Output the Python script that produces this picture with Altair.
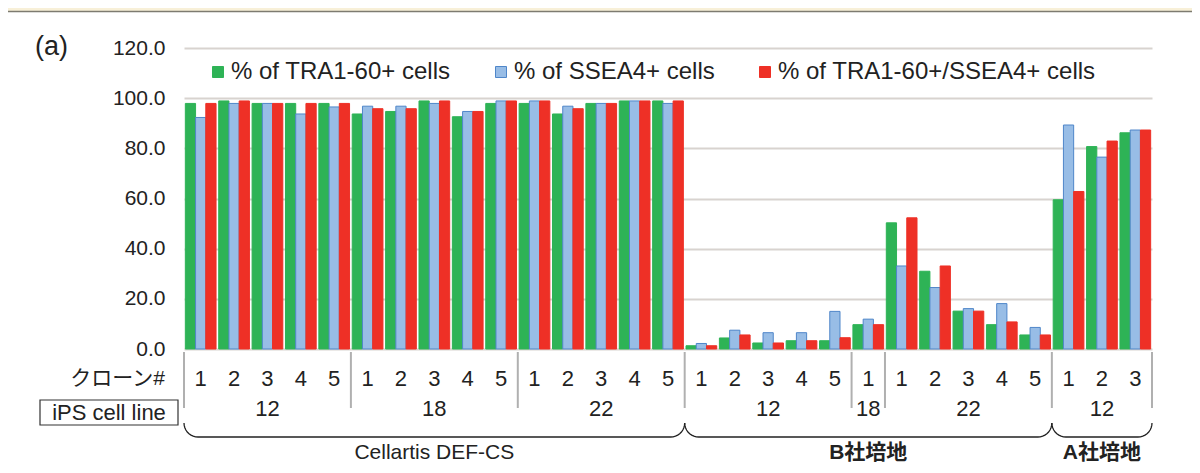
import math
import altair as alt
import pandas as pd

# ---------------- data ----------------
media = ["Cellartis DEF-CS"] * 15 + ["B社培地"] * 11 + ["A社培地"] * 3
cell_line = ["12"] * 5 + ["18"] * 5 + ["22"] * 5 + ["12"] * 5 + ["18"] + ["22"] * 5 + ["12"] * 3
clone = ["1", "2", "3", "4", "5"] * 4 + ["1"] + ["1", "2", "3", "4", "5"] + ["1", "2", "3"]

series = ["% of TRA1-60+ cells", "% of SSEA4+ cells", "% of TRA1-60+/SSEA4+ cells"]

tra = [97.9, 98.9, 97.9, 97.9, 97.9, 93.7, 94.7, 98.9, 92.6, 97.9,
       97.9, 93.7, 97.9, 98.9, 98.9,
       1.3, 4.4, 2.4, 3.3, 3.3, 9.7, 50.3, 31.0, 15.1, 9.7, 5.6,
       59.5, 80.7, 86.2]
ssea = [92.3, 97.9, 97.9, 93.7, 96.5, 96.8, 96.8, 97.9, 94.7, 98.9,
        98.9, 96.8, 97.9, 98.9, 97.9,
        2.2, 7.5, 6.5, 6.5, 15.0, 11.9, 33.1, 24.5, 16.1, 18.1, 8.6,
        89.3, 76.5, 87.3]
dbl = [97.9, 98.9, 97.9, 97.9, 97.9, 95.8, 95.8, 98.9, 94.7, 98.9,
       98.9, 95.8, 97.9, 98.9, 98.9,
       1.3, 5.6, 2.4, 3.3, 4.5, 9.7, 52.3, 33.1, 15.1, 10.8, 5.6,
       62.8, 82.9, 87.3]

y_ticks = [0, 20, 40, 60, 80, 100, 120]

# ---------------- tables ----------------
n = len(clone)
groups = pd.DataFrame({"idx": list(range(n)), "media": media, "line": cell_line, "clone": clone})

rows = []
for vals, s in zip([tra, ssea, dbl], series):
    for i, v in enumerate(vals):
        rows.append({"idx": i, "series": s, "value": v})
long = pd.DataFrame(rows)

keys = list(zip(media, cell_line))
bounds = [0] + [i for i in range(1, n) if keys[i] != keys[i - 1]] + [n]
lines_df = pd.DataFrame({
    "start": bounds[:-1],
    "end": bounds[1:],
    "line": [cell_line[b] for b in bounds[:-1]],
})
sep_df = pd.DataFrame({"pos": bounds})

mb = [0] + [i for i in range(1, n) if media[i] != media[i - 1]] + [n]
media_df = pd.DataFrame({"start": mb[:-1], "end": mb[1:], "media": [media[b] for b in mb[:-1]]})

# ---------------- style ----------------
FONT = "Liberation Sans, Arial, Noto Sans CJK JP, sans-serif"
TXT = "#222222"
BR = "#222222"
fills = ["#2eb356", "#98bde6", "#ee3026"]
strokes = ["#2eb356", "#4f86c9", "#ee3026"]
W, H = 968, 301
xq_scale = alt.Scale(domain=[0, n], nice=False, zero=False)

# brace outline (decoration): rounded-corner bracket under each medium's groups
R = 14                      # corner radius in pixels
rr = R / (W / n)            # same radius in group units
TOP, BOT = 375, 389         # pixel rows of bracket ends / bottom line
brace_pts = []
for k, (s, e, m) in enumerate(zip(media_df["start"], media_df["end"], media_df["media"])):
    o = 0
    for deg in range(0, 91, 10):
        a = math.radians(deg)
        brace_pts.append({"b": k, "o": o, "pos": s + rr - rr * math.cos(a), "py": TOP + R * math.sin(a)})
        o += 1
    for deg in range(90, -1, -10):
        a = math.radians(deg)
        brace_pts.append({"b": k, "o": o, "pos": e - rr + rr * math.cos(a), "py": TOP + R * math.sin(a)})
        o += 1
brace_df = pd.DataFrame(brace_pts)

bars = alt.Chart(long).mark_bar(strokeWidth=1).encode(
    x=alt.X("idx:O", axis=None, scale=alt.Scale(paddingInner=0.08, paddingOuter=0.04)),
    xOffset=alt.XOffset("series:N", sort=series,
                        scale=alt.Scale(domain=series, paddingInner=0, paddingOuter=0)),
    y=alt.Y("value:Q", scale=alt.Scale(domain=[0, 120], nice=False),
            axis=alt.Axis(values=y_ticks, format=".1f", title=None, domain=False,
                          ticks=False, tickSize=0, labelPadding=19, labelFontSize=21,
                          labelColor=TXT, labelFont=FONT, grid=True,
                          gridColor="#d8d3cf", gridWidth=2)),
    fill=alt.Fill("series:N", scale=alt.Scale(domain=series, range=fills),
                  legend=alt.Legend(title=None)),
    stroke=alt.Stroke("series:N", scale=alt.Scale(domain=series, range=strokes),
                      legend=alt.Legend(title=None)),
)

clone_txt = alt.Chart(groups).transform_calculate(pos="datum.idx + 0.5").mark_text(
    fontSize=22, font=FONT, color=TXT, baseline="middle"
).encode(x=alt.X("pos:Q", scale=xq_scale, axis=None), y=alt.value(331), text="clone:N")

line_txt = alt.Chart(lines_df).transform_calculate(pos="(datum.start + datum.end) / 2").mark_text(
    fontSize=22, font=FONT, color=TXT, baseline="middle"
).encode(x=alt.X("pos:Q", scale=xq_scale, axis=None), y=alt.value(361), text="line:N")

seps = alt.Chart(sep_df).mark_rule(color="#b0b0b0", strokeWidth=2).encode(
    x=alt.X("pos:Q", scale=xq_scale, axis=None), y=alt.value(304), y2=alt.value(360))

braces = alt.Chart(brace_df).mark_line(color=BR, strokeWidth=1.3).encode(
    x=alt.X("pos:Q", scale=xq_scale, axis=None),
    y=alt.Y("py:Q", scale=None, axis=None),
    detail="b:N",
    order="o:Q",
)

media_norm = alt.Chart(media_df).transform_filter("datum.media == 'Cellartis DEF-CS'").transform_calculate(
    pos="(datum.start + datum.end) / 2").mark_text(
    fontSize=21, font=FONT, color=TXT, baseline="middle"
).encode(x=alt.X("pos:Q", scale=xq_scale, axis=None), y=alt.value(405), text="media:N")
media_bold = alt.Chart(media_df).transform_filter("datum.media != 'Cellartis DEF-CS'").transform_calculate(
    pos="(datum.start + datum.end) / 2").mark_text(
    fontSize=21, font=FONT, color=TXT, baseline="middle", fontWeight="bold"
).encode(x=alt.X("pos:Q", scale=xq_scale, axis=None), y=alt.value(405), text="media:N")

one = pd.DataFrame({"t": ["クローン#"]})
clone_lab = alt.Chart(one).mark_text(fontSize=21, font=FONT, color=TXT, align="right",
                                     baseline="middle").encode(
    x=alt.value(-19), y=alt.value(331), text="t:N")

ips = pd.DataFrame({"t": ["iPS cell line"]})
ips_box = alt.Chart(ips).mark_rect(fill="white", stroke="#333333", strokeWidth=1.2).encode(
    x=alt.value(-144), x2=alt.value(-6), y=alt.value(352), y2=alt.value(377))
ips_txt = alt.Chart(ips).mark_text(fontSize=22, font=FONT, color=TXT, baseline="middle").encode(
    x=alt.value(-75), y=alt.value(365), text="t:N")

tag = pd.DataFrame({"t": ["(a)"]})
tag_txt = alt.Chart(tag).mark_text(fontSize=27, font=FONT, color=TXT, align="left",
                                   baseline="middle").encode(
    x=alt.value(-149), y=alt.value(-1), text="t:N")

top_band = alt.Chart(tag).mark_rect(fill="#f8f0d8").encode(
    x=alt.value(-176), x2=alt.value(W + 40), y=alt.value(-40), y2=alt.value(-37))
top_line = alt.Chart(tag).mark_rule(color="#7d7b70", strokeWidth=1.5).encode(
    x=alt.value(-176), x2=alt.value(W + 40), y=alt.value(-36.5))

chart = alt.layer(
    top_band, top_line, bars, seps, clone_txt, line_txt, braces,
    media_norm, media_bold, clone_lab, ips_box, ips_txt, tag_txt
).resolve_scale(x="independent", y="independent").properties(
    width=W, height=H,
    autosize=alt.AutoSizeParams(type="none"),
    padding={"left": 176, "top": 40, "right": 40, "bottom": 116},
    background="white",
).configure_view(stroke=None).configure_legend(
    orient="none", legendX=22, legendY=12, direction="horizontal", columns=3,
    columnPadding=38, labelFontSize=24, labelFont=FONT, labelColor=TXT,
    symbolType="square", symbolSize=121, symbolStrokeWidth=1, labelOffset=1,
    labelLimit=0, padding=0,
)

chart.save("out.html", embed_options={"renderer": "svg", "actions": False})
